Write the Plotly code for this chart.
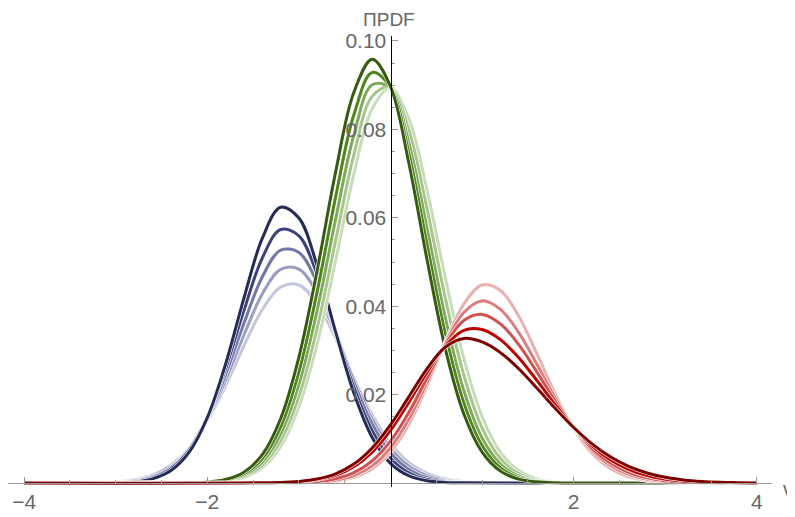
import plotly.graph_objects as go

# ---------------- data ----------------
blue_x = [-4.0, -3.4, -3.2, -3.0, -2.8, -2.6, -2.4, -2.2, -2.0, -1.8, -1.6, -1.4,
          -1.2, -1.0, -0.8, -0.6, -0.4, -0.2, 0.0, 0.2, 0.4, 0.6, 0.8, 4.0]
blue_1 = [0.0, 0.0, 0.00001, 0.00007, 0.00027, 0.00094, 0.00275, 0.00691, 0.01478, 0.02693, 0.04182, 0.05533,
          0.06239, 0.05994, 0.04908, 0.03424, 0.02036, 0.01031, 0.00445, 0.00164, 0.00051, 0.00014, 0.00003, 0.0]
blue_2 = [0.0, 0.00001, 0.00003, 0.00011, 0.00038, 0.00118, 0.00317, 0.00739, 0.01488, 0.02591, 0.03905, 0.05089,
          0.05736, 0.05592, 0.04715, 0.03439, 0.02169, 0.01184, 0.00558, 0.00228, 0.0008, 0.00025, 0.00006, 0.0]
blue_3 = [0.0, 0.00001, 0.00004, 0.00015, 0.00049, 0.00139, 0.00348, 0.00762, 0.0146, 0.02454, 0.03613, 0.04661,
          0.05267, 0.05215, 0.04524, 0.03438, 0.0229, 0.01336, 0.00683, 0.00306, 0.0012, 0.00041, 0.00012, 0.0]
blue_4 = [0.0, 0.00002, 0.00006, 0.00021, 0.00061, 0.00161, 0.00377, 0.0078, 0.01431, 0.02325, 0.03349, 0.04274,
          0.04832, 0.04841, 0.04297, 0.0338, 0.02355, 0.01454, 0.00795, 0.00386, 0.00166, 0.00063, 0.00021, 0.0]
blue_5 = [0.0, 0.00003, 0.00009, 0.00027, 0.00074, 0.00183, 0.00402, 0.00792, 0.01395, 0.0220, 0.03105, 0.03921,
          0.04431, 0.0448, 0.04054, 0.03282, 0.02378, 0.01542, 0.00895, 0.00464, 0.00216, 0.0009, 0.00033, 0.0]

green_x = [-4.0, -2.4, -2.2, -2.0, -1.8, -1.6, -1.4, -1.2, -1.0, -0.8, -0.6, -0.4, -0.2,
           0.0, 0.2, 0.4, 0.6, 0.8, 1.0, 1.2, 1.4, 1.6, 1.8, 2.0, 2.2, 4.0]
green_1 = [0.0, 0.00001, 0.00005, 0.00022, 0.0008, 0.00243, 0.0064, 0.01454, 0.0285, 0.0482, 0.07028, 0.08839, 0.09588,
           0.08971, 0.07239, 0.05039, 0.03025, 0.01566, 0.00699, 0.00269, 0.00089, 0.00026, 0.00006, 0.00001, 0.0, 0.0]
green_2 = [0.0, 0.00001, 0.00005, 0.00019, 0.00067, 0.00206, 0.00548, 0.01263, 0.02515, 0.04336, 0.06462, 0.0833, 0.09288,
           0.08957, 0.07471, 0.0539, 0.03363, 0.01815, 0.00847, 0.00342, 0.00119, 0.00036, 0.00009, 0.00002, 0.0, 0.0]
green_3 = [0.0, 0.00001, 0.00004, 0.00016, 0.00057, 0.00176, 0.00473, 0.01103, 0.02232, 0.03916, 0.05962, 0.0787, 0.0901,
           0.08945, 0.07703, 0.05753, 0.03726, 0.02093, 0.0102, 0.0043, 0.00158, 0.0005, 0.00014, 0.00003, 0.00001, 0.0]
green_4 = [0.0, 0.00001, 0.00003, 0.00013, 0.00047, 0.00147, 0.00402, 0.00952, 0.01961, 0.03514, 0.05477, 0.07423, 0.08747,
           0.08963, 0.07988, 0.0619, 0.04171, 0.02444, 0.01245, 0.00552, 0.00212, 0.00071, 0.00021, 0.00005, 0.00001, 0.0]
green_5 = [0.0, 0.00001, 0.00003, 0.00011, 0.00039, 0.00124, 0.00342, 0.00822, 0.01725, 0.03153, 0.05027, 0.06987, 0.08466,
           0.08944, 0.08237, 0.06614, 0.0463, 0.02826, 0.01503, 0.00697, 0.00282, 0.00099, 0.00031, 0.00008, 0.00002, 0.0]

red_x = [-4.0, -1.2, -1.0, -0.8, -0.6, -0.4, -0.2, 0.0, 0.2, 0.4, 0.6, 0.8, 1.0, 1.2, 1.4,
         1.6, 1.8, 2.0, 2.2, 2.4, 2.6, 2.8, 3.0, 3.2, 3.4, 3.6, 3.8, 4.0]
red_1 = [0.0, 0.00012, 0.00035, 0.00089, 0.00207, 0.00428, 0.00793, 0.01315, 0.0195, 0.02589, 0.03076, 0.0327, 0.03191,
         0.0295, 0.02584, 0.02144, 0.01686, 0.01255, 0.00886, 0.00592, 0.00375, 0.00225, 0.00128, 0.00069, 0.00035,
         0.00017, 0.00008, 0.0]
red_2 = [0.0, 0.0001, 0.00029, 0.00075, 0.00175, 0.00369, 0.007, 0.01191, 0.01824, 0.0251, 0.03105, 0.03454, 0.03471,
         0.03244, 0.02835, 0.02315, 0.01768, 0.01261, 0.00842, 0.00525, 0.00306, 0.00167, 0.00085, 0.0004, 0.00018,
         0.00007, 0.00003, 0.0]
red_3 = [0.0, 0.00003, 0.00011, 0.00035, 0.00096, 0.00233, 0.00499, 0.00948, 0.01595, 0.02377, 0.0314, 0.03675, 0.03814,
         0.036, 0.0313, 0.02506, 0.01848, 0.01255, 0.00785, 0.00452, 0.0024, 0.00117, 0.00053, 0.00022, 0.00008,
         0.00003, 0.00001, 0.0]
red_4 = [0.0, 0.00001, 0.00006, 0.0002, 0.00062, 0.00165, 0.00388, 0.00798, 0.01442, 0.02282, 0.03169, 0.03858, 0.0412,
         0.03928, 0.03403, 0.0268, 0.01918, 0.01248, 0.00737, 0.00396, 0.00194, 0.00086, 0.00035, 0.00013, 0.00004,
         0.00001, 0.0, 0.0]
red_5 = [0.0, 0.00001, 0.00004, 0.00014, 0.00045, 0.00129, 0.00321, 0.00699, 0.01328, 0.02204, 0.03196, 0.04049, 0.04481,
         0.04357, 0.03774, 0.02914, 0.02006, 0.01231, 0.00673, 0.00329, 0.00143, 0.00055, 0.00019, 0.00006, 0.00002,
         0.0, 0.0, 0.0]

x_tick_vals = [-4, -2, 2, 4]
x_tick_text = ["\u22124", "\u22122", "2", "4"]
y_tick_vals = [0.02, 0.04, 0.06, 0.08, 0.10]
y_tick_text = ["0.02", "0.04", "0.06", "0.08", "0.10"]
y_label = "\u03a0PDF"
x_label = "\u03bd"

# ---------------- styling ----------------
blue_cols = ["#c4c6dc", "#9a9dc1", "#7377a6", "#3c417a", "#262a56"]
green_cols = ["#c7dcb8", "#a6c48c", "#7fa85c", "#4f861b", "#365a10"]
red_cols = ["#eab0b0", "#dc7c7c", "#cf5151", "#bd0000", "#7d0000"]

families = [
    (blue_x, [blue_5, blue_4, blue_3, blue_2, blue_1], blue_cols),
    (green_x, [green_5, green_4, green_3, green_2, green_1], green_cols),
    (red_x, [red_5, red_4, red_3, red_2, red_1], red_cols),
]

fig = go.Figure()
for xs, series, cols in families:
    for ys, col in zip(series, cols):
        fig.add_trace(go.Scatter(x=xs, y=ys, mode="lines",
                                 line=dict(color="white", width=4.2, shape="spline", smoothing=1.0),
                                 hoverinfo="skip", showlegend=False))
        fig.add_trace(go.Scatter(x=xs, y=ys, mode="lines",
                                 line=dict(color=col, width=3, shape="spline", smoothing=1.0),
                                 hoverinfo="skip", showlegend=False))

x_lo, x_hi = -4.176, 4.165
y_lo, y_hi = -0.000905, 0.10113
font_family = "Liberation Sans, Arial, sans-serif"
tick_font = dict(family=font_family, size=21, color="#666666")

# the page body adds an 8 px margin, so the figure is 8 px smaller than the window
fig.update_layout(
    width=787, height=509,
    margin=dict(l=0, r=23, t=28, b=30, autoexpand=False),
    paper_bgcolor="white", plot_bgcolor="white",
    showlegend=False,
    xaxis=dict(
        range=[x_lo, x_hi], anchor="free", position=(0 - y_lo) / (y_hi - y_lo),
        automargin=False,
        showgrid=False, zeroline=False, showline=True, linecolor="#9a9a9a", linewidth=1,
        tickmode="array", tickvals=x_tick_vals, ticktext=x_tick_text,
        ticks="inside", ticklen=6, tickcolor="#9a9a9a", tickwidth=1,
        tickfont=tick_font,
        minor=dict(tickmode="array", tickvals=[-3.5, -3, -2.5, -1.5, -1, -0.5, 0.5, 1, 1.5, 2.5, 3, 3.5],
                   ticks="inside", ticklen=3, tickcolor="#9a9a9a"),
    ),
    yaxis=dict(
        range=[y_lo, y_hi], anchor="free", position=(0 - x_lo) / (x_hi - x_lo),
        automargin=False,
        showgrid=False, zeroline=False, showline=True, linecolor="#000000", linewidth=1,
        tickmode="array", tickvals=y_tick_vals, ticktext=y_tick_text,
        ticks="inside", ticklen=6, tickcolor="#9a9a9a", tickwidth=1,
        tickfont=tick_font,
        minor=dict(tickmode="array",
                   tickvals=[0.005, 0.01, 0.015, 0.025, 0.03, 0.035, 0.045, 0.05, 0.055,
                             0.065, 0.07, 0.075, 0.085, 0.09, 0.095],
                   ticks="inside", ticklen=3, tickcolor="#9a9a9a"),
    ),
    annotations=[
        dict(text=y_label, xref="paper", yref="paper", x=(389 - 8) / 764, y=1 + (36 - 19) / 451,
             xanchor="center", yanchor="middle", showarrow=False,
             font=dict(family=font_family, size=19, color="#666666")),
        dict(text=x_label, xref="paper", yref="paper", x=(781 - 8) / 764, y=(487 - 489) / 451,
             xanchor="left", yanchor="middle", showarrow=False,
             font=dict(family=font_family, size=20, color="#666666")),
    ],
)

fig.write_html("out.html")
